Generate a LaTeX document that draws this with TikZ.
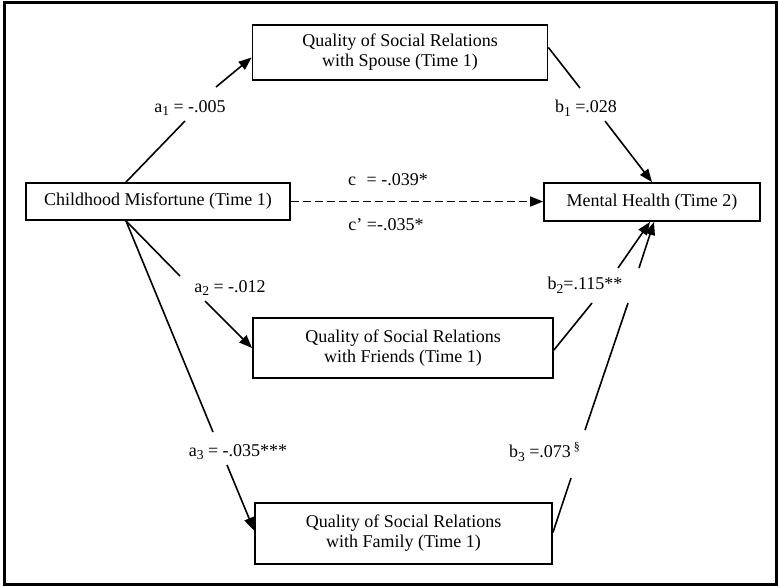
\documentclass[tikz,border=0pt]{standalone}
\usepackage{fontspec}
\setmainfont{Liberation Serif}
\usetikzlibrary{arrows.meta, positioning, calc}
\newcommand{\lowidx}[1]{\raisebox{-0.45ex}{\fontsize{6.8}{7}\selectfont #1}}

\begin{document}
\begin{tikzpicture}[x=0.5pt, y=-0.5pt,
  box/.style={draw, line width=0.9pt, align=center, inner sep=2pt,
              font=\fontsize{9}{10}\selectfont},
  coef/.style={inner sep=1pt, font=\fontsize{9}{10}\selectfont},
  link/.style={line width=0.8pt},
  >={Triangle[length=6.5pt, width=5pt]}]
  \useasboundingbox (0,0) rectangle (779,586);
  \draw[line width=1.5pt] (4,2) rectangle (776,584);

  % variables
  \node[box, minimum width=132pt,   minimum height=18.5pt] (cm) at (158,201.5) {Childhood Misfortune (Time 1)};
  \node[box, minimum width=108pt,   minimum height=19pt]   (mh) at (652,202)   {Mental Health (Time 2)};
  \node[box, minimum width=147.5pt, minimum height=27.5pt] (sp) at (400,52.5)  {Quality of Social Relations\\with Spouse (Time 1)};
  \node[box, minimum width=150pt,   minimum height=30pt]   (fr) at (403,348)   {Quality of Social Relations\\with Friends (Time 1)};
  \node[box, minimum width=148.5pt, minimum height=30.5pt] (fa) at (403.5,533.5) {Quality of Social Relations\\with Family (Time 1)};

  % coefficients
  \node[coef] (la1) at (190,108) {a\lowidx{1} = -.005};
  \node[coef] (la2) at (230,288) {a\lowidx{2} = -.012};
  \node[coef] (la3) at (238,452) {a\lowidx{3} = -.035***};
  \node[coef] (lb1) at (586,108) {b\lowidx{1} =.028};
  \node[coef] (lb2) at (585,285) {b\lowidx{2}=.115**};
  \node[coef] (lb3) at (545,452) {b\lowidx{3} =.073\,\textsuperscript{\S}};
  \node[coef] (lc)  at (388,180) {c\hphantom{’} = -.039*};
  \node[coef] (lcp) at (386,225) {c’ =-.035*};

  % bend points beside the coefficients
  \coordinate (a1i) at (185,121);  \coordinate (a1o) at (216,87);
  \coordinate (a2i) at (180,276);  \coordinate (a2o) at (205,301);
  \coordinate (a3i) at (213,432);  \coordinate (a3o) at (227,465);
  \coordinate (b1i) at (580,88);   \coordinate (b1o) at (605,121);
  \coordinate (b2i) at (592,303);  \coordinate (b2o) at (618,268);
  \coordinate (b3i) at (571,478);  \coordinate (b3o) at (585,430);
  \coordinate (b3j) at (628,303);  \coordinate (b3k) at (639,268);

  \draw[link] ($(cm.north)+(-32,0)$) -- (a1i);
  \draw[link,->] (a1o) -- ($(sp.west)+(0,5)$);
  \draw[link] ($(cm.south)+(-32,0)$) -- (a2i);
  \draw[link,->] (a2o) -- (fr.west);
  \draw[link] ($(cm.south)+(-32,0)$) -- (a3i);
  \draw[link,->] (a3o) -- ($(fa.west)+(0,-3)$);
  \draw[link] ($(sp.east)+(0,-5)$) -- (b1i);
  \draw[link,->] (b1o) -- (mh.north);
  \draw[link] ($(fr.east)+(0,2)$) -- (b2i);
  \draw[link,->] (b2o) -- ($(mh.south)+(-2,0)$);
  \draw[link] ($(fa.east)+(0,-1)$) -- (b3i);
  \draw[link,->] (b3o) -- (b3j) (b3k) -- ($(mh.south)+(2,0)$);
  \draw[link, dash pattern=on 4pt off 2pt, ->] (cm.east) -- (cm.east -| mh.west);
\end{tikzpicture}
\end{document}
